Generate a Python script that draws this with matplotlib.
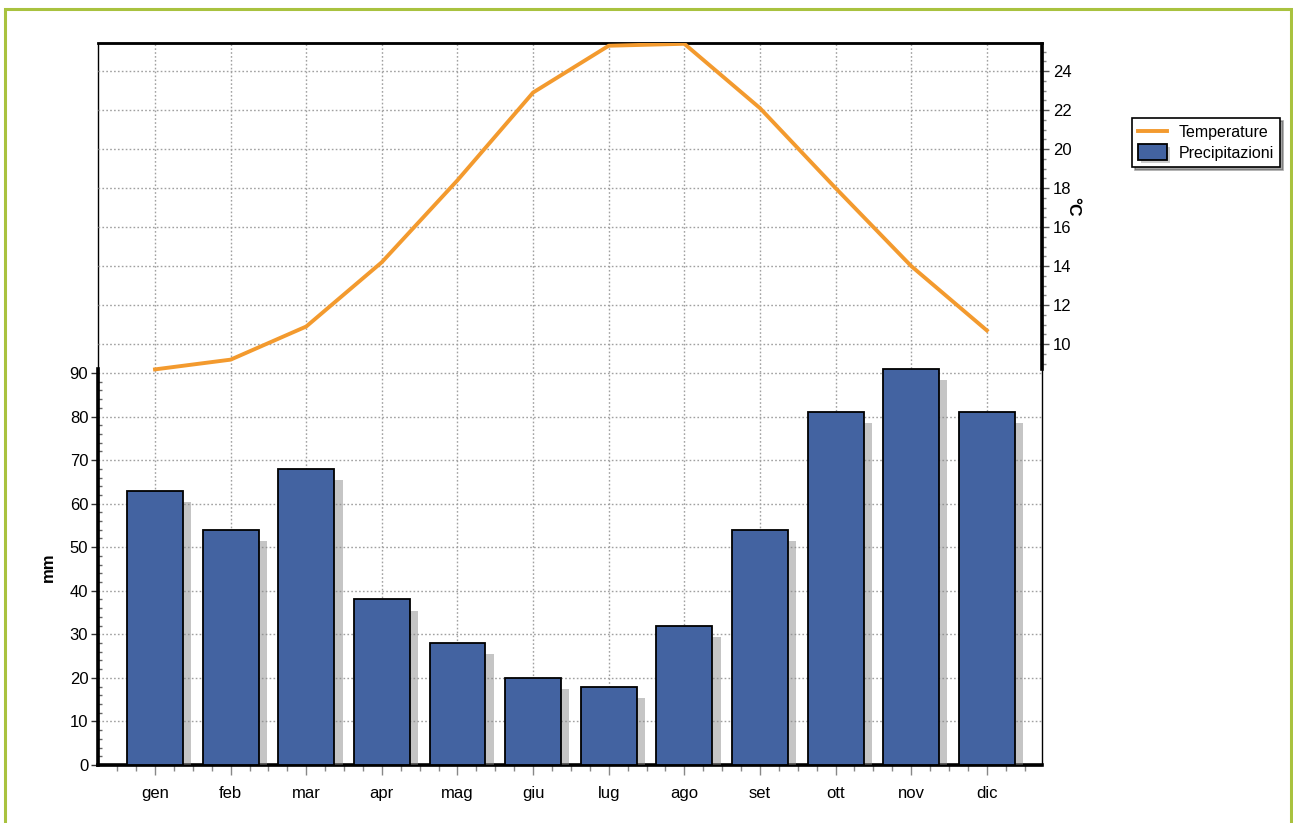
import numpy as np
import matplotlib.pyplot as plt
from matplotlib.patches import Rectangle, Patch
import matplotlib.patheffects as pe

plt.rcParams['font.family'] = ['Liberation Sans', 'DejaVu Sans']

mesi = ['gen', 'feb', 'mar', 'apr', 'mag', 'giu', 'lug', 'ago', 'set', 'ott', 'nov', 'dic']
precipitazioni = [63, 54, 68, 38, 28, 20, 18, 32, 54, 81, 91, 81]
temperature = [8.7, 9.2, 10.9, 14.2, 18.4, 22.9, 25.3, 25.4, 22.1, 18.0, 14.0, 10.7]

bar_color = '#4363a1'
line_color = '#f39a2e'

W, H = 1293, 823
fig = plt.figure(figsize=(W / 100, H / 100), dpi=100)

# green outer frame (open at the bottom)
fig.add_artist(Rectangle((5 / W, -0.05), (1291 - 5) / W, (H - 9.5) / H + 0.05,
                         transform=fig.transFigure, fill=False,
                         edgecolor='#a9c23f', lw=2.2))

ax = fig.add_axes([98 / W, 1 - 765 / H, (1042 - 98) / W, (765 - 43) / H])
x = np.arange(len(mesi))

# mm axis: 0 at bottom, 90 at y=373 px
ax.set_ylim(0, 165.75)
ax.set_xlim(-0.754, 11.73)

bars = ax.bar(x, precipitazioni, width=0.74, color=bar_color, edgecolor='black',
              lw=1.3, zorder=3, label='Precipitazioni')
for b in bars:
    b.set_path_effects([pe.SimplePatchShadow(offset=(6, -8), shadow_rgbFace='#8c8c8c',
                                             alpha=0.5), pe.Normal()])

ax2 = ax.twinx()
ax2.set_ylim(-11.59, 25.44)
ln, = ax2.plot(x, temperature, color=line_color, lw=2.8, zorder=4, label='Temperature')

# grid lines
grid_kw = dict(color='#a0a0a0', lw=1, ls=(0, (1.2, 1.6)), zorder=1)
for v in range(10, 100, 10):
    ax.axhline(v, **grid_kw)
for v in range(10, 26, 2):
    ax2.axhline(v, **grid_kw)
for xi in x:
    ax.axvline(xi, **grid_kw)

# spines
for a in (ax, ax2):
    for s in a.spines.values():
        s.set_visible(False)
ax.add_patch(Rectangle((0, 0), 1, 1, transform=ax.transAxes, fill=False,
                       edgecolor='black', lw=1.0, clip_on=False, zorder=5))
ax.spines['left'].set_visible(True)
ax.spines['left'].set_linewidth(2.6)
ax.spines['left'].set_bounds(0, max(precipitazioni))
ax.spines['bottom'].set_visible(True)
ax.spines['bottom'].set_linewidth(2.6)
ax.spines['top'].set_visible(True)
ax.spines['top'].set_linewidth(2.0)
ax2.spines['right'].set_visible(True)
ax2.spines['right'].set_linewidth(2.6)
ax2.spines['right'].set_bounds(min(temperature), max(temperature))

# ticks
ax.set_yticks(range(0, 100, 10))
ax.set_yticks([v for v in np.arange(0, 92, 2) if v % 10], minor=True)
ax.tick_params(axis='y', which='major', direction='out', length=5, width=1,
               labelsize=12, pad=2, color='#333333')
ax.tick_params(axis='y', which='minor', direction='in', length=3, width=1, color='#666666')

ax.set_xticks(x)
ax.set_xticklabels(mesi)
ax.set_xticks(np.arange(-0.5, 11.6, 0.25), minor=True)
ax.tick_params(axis='x', which='major', direction='out', length=7, width=1,
               labelsize=12, pad=8, color='#888888')
ax.tick_params(axis='x', which='minor', direction='out', length=4, width=1, color='#888888')

ax2.set_yticks(range(10, 26, 2))
ax2.set_yticks([v for v in np.arange(9.0, 25.5, 0.5) if v % 2], minor=True)
ax2.tick_params(axis='y', which='major', direction='out', length=5, width=1,
                labelsize=12, pad=3, color='#555555')
ax2.tick_params(axis='y', which='minor', direction='out', length=3, width=1, color='#888888')

ax.set_ylabel('mm', fontsize=12, fontweight='bold')
ax.yaxis.set_label_coords(-0.045, (765 - 567) / (765 - 43))
ax2.set_ylabel('°C', fontsize=12.5, fontweight='bold', rotation=-90)
ax2.yaxis.set_label_coords(1.04, (765 - 207) / (765 - 43))

bar_handle = Patch(facecolor=bar_color, edgecolor='black', lw=1.3,
                   path_effects=[pe.SimplePatchShadow(offset=(2, -2), shadow_rgbFace='#999999',
                                                      alpha=0.5), pe.Normal()])
leg = fig.legend([ln, bar_handle], ['Temperature', 'Precipitazioni'],
                 loc='upper left', bbox_to_anchor=(1132 / W, 1 - 118 / H),
                 borderaxespad=0, fontsize=11.5, frameon=True, fancybox=False,
                 shadow=True, edgecolor='black', borderpad=0.4, labelspacing=0.25,
                 handlelength=1.8, handleheight=1.1, handletextpad=0.7)
leg.get_frame().set_linewidth(1.2)

fig.savefig('out.png', dpi=100)
